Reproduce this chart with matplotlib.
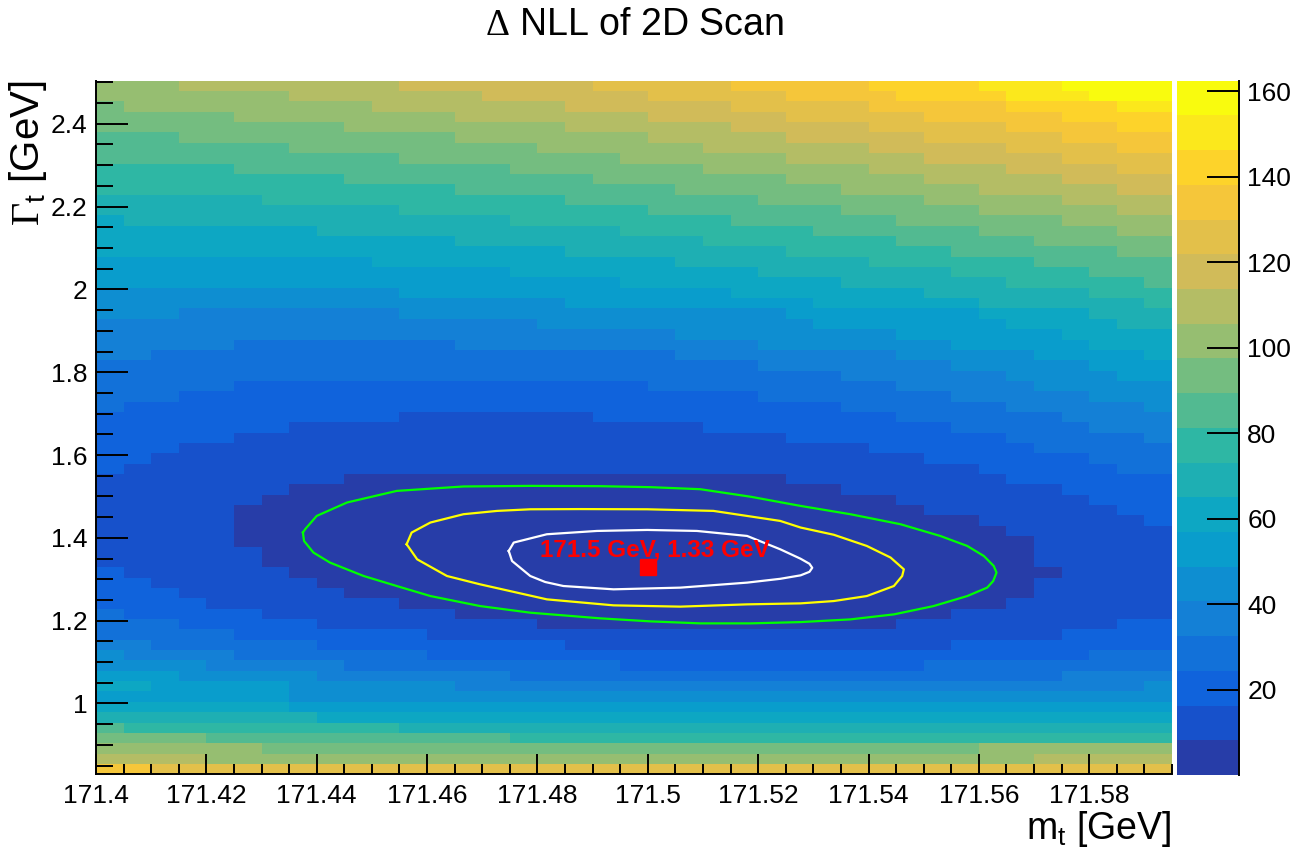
import numpy as np
import matplotlib
matplotlib.use("Agg")
import matplotlib.pyplot as plt
from matplotlib.colors import ListedColormap, BoundaryNorm, LinearSegmentedColormap
from matplotlib.ticker import MultipleLocator, FuncFormatter

plt.rcParams['font.family'] = ['Liberation Sans', 'DejaVu Sans']
plt.rcParams['mathtext.fontset'] = 'custom'
plt.rcParams['mathtext.rm'] = 'Liberation Sans'
plt.rcParams['mathtext.it'] = 'Liberation Sans:italic'
plt.rcParams['mathtext.tt'] = 'Liberation Serif'

# ---------------- data ----------------
MT_MIN, MT_STEP, N_MT = 171.4, 0.005, 39          # m_t bins
GT_MIN, GT_STEP, N_GT = 0.829, 0.025, 67          # Gamma_t bins
Z_MAX = 162.5
N_LEVELS = 20
CBAR_TICKS = [20, 40, 60, 80, 100, 120, 140, 160]

# colour level of every cell (level:count runs), top row first
LEVEL_ROWS = [
    "12:3 13:8 14:7 15:5 16:5 17:4 18:3 19:4",
    "12:7 13:7 14:6 15:5 16:4 17:4 18:3 19:3",
    "11:1 12:9 13:7 14:6 15:5 16:5 17:4 18:2",
    "11:5 12:8 13:7 14:5 15:5 16:5 17:4",
    "11:9 12:8 13:6 14:5 15:5 16:4 17:2",
    "10:3 11:10 12:7 13:5 14:5 15:5 16:4",
    "10:7 11:9 12:6 13:6 14:5 15:4 16:2",
    "10:11 11:8 12:6 13:5 14:5 15:4",
    "9:5 10:10 11:7 12:6 13:5 14:4 15:2",
    "9:9 10:9 11:7 12:5 13:5 14:4",
    "9:13 10:8 11:6 12:5 13:5 14:2",
    "8:6 9:11 10:7 11:6 12:5 13:4",
    "8:11 9:9 10:7 11:5 12:5 13:2",
    "7:1 8:14 9:8 10:6 11:6 12:4",
    "7:8 8:11 9:7 10:6 11:5 12:2",
    "7:13 8:9 9:7 10:5 11:5",
    "7:17 8:8 9:6 10:6 11:2",
    "6:10 7:11 8:7 9:6 10:5",
    "6:15 7:9 8:7 9:5 10:3",
    "6:19 7:8 8:6 9:5 10:1",
    "5:11 6:12 7:7 8:6 9:3",
    "5:17 6:9 7:6 8:6 9:1",
    "5:3 4:8 5:14 6:7 7:4 8:3",
    "4:16 5:10 6:7 7:4 8:2",
    "4:21 5:8 6:6 7:4",
    "4:5 3:8 4:11 5:7 6:5 7:3",
    "4:2 3:19 4:8 5:5 6:4 7:1",
    "3:24 4:7 5:5 6:3",
    "3:27 4:6 5:4 6:2",
    "3:5 2:15 3:9 4:5 5:5",
    "3:3 2:21 3:7 4:5 5:3",
    "3:1 2:26 3:6 4:5 5:1",
    "2:11 1:7 2:11 3:6 4:4",
    "2:7 1:15 2:9 3:5 4:3",
    "2:5 1:20 2:8 3:5 4:1",
    "2:3 1:25 2:6 3:5",
    "2:2 1:28 2:6 3:3",
    "2:1 1:31 2:5 3:2",
    "1:9 0:16 1:8 2:6",
    "1:7 0:20 1:8 2:4",
    "1:6 0:23 1:7 2:3",
    "1:5 0:25 1:7 2:2",
    "1:5 0:27 1:6 2:1",
    "1:5 0:28 1:6",
    "1:5 0:29 1:5",
    "1:6 0:28 1:5",
    "1:6 0:28 1:5",
    "2:1 1:6 0:28 1:4",
    "2:2 1:6 0:26 1:5",
    "2:3 1:6 0:25 1:5",
    "2:4 1:7 0:22 1:6",
    "3:1 2:5 1:7 0:18 1:8",
    "3:3 2:5 1:8 0:13 1:8 2:2",
    "3:5 2:7 1:23 2:4",
    "4:2 3:6 2:9 1:14 2:8",
    "5:1 4:4 3:7 2:24 3:3",
    "5:4 4:5 3:10 2:11 3:9",
    "6:3 5:5 4:7 3:20 4:4",
    "7:2 6:5 5:6 4:25 5:1",
    "6:7 5:32",
    "7:7 6:32",
    "8:8 7:31",
    "10:1 9:10 8:28",
    "11:4 10:11 9:24",
    "12:6 11:26 12:7",
    "13:4 12:30 13:5",
    "16:2 15:37",
]

# confidence contours (m_t [GeV], Gamma_t [GeV])
GREEN_MT = [171.4375, 171.4379, 171.4400, 171.4455, 171.4545, 171.4666, 171.4787, 171.4914,
            171.5005, 171.5095, 171.5186, 171.5277, 171.5367, 171.5458, 171.5530, 171.5579,
            171.5609, 171.5627, 171.5632, 171.5626, 171.5615, 171.5579, 171.5518, 171.5446,
            171.5367, 171.5277, 171.5186, 171.5095, 171.5005, 171.4914, 171.4787, 171.4696,
            171.4606, 171.4545, 171.4485, 171.4424, 171.4394, 171.4377]
GREEN_GT = [1.4128, 1.4208, 1.4530, 1.4854, 1.5134, 1.5241, 1.5255, 1.5248, 1.5224, 1.5175,
            1.4994, 1.4771, 1.4571, 1.4329, 1.4046, 1.3804, 1.3562, 1.3320, 1.3161, 1.2958,
            1.2798, 1.2595, 1.2353, 1.2152, 1.2031, 1.1966, 1.1935, 1.1935, 1.1983, 1.2056,
            1.2193, 1.2353, 1.2595, 1.2837, 1.3079, 1.3403, 1.3645, 1.3925]
YELLOW_MT = [171.4563, 171.4572, 171.4606, 171.4666, 171.4727, 171.4787, 171.4878, 171.4999,
             171.5119, 171.5240, 171.5277, 171.5337, 171.5397, 171.5440, 171.5464, 171.5461,
             171.5446, 171.5397, 171.5337, 171.5277, 171.5180, 171.5059, 171.4938, 171.4817,
             171.4696, 171.4636, 171.4582]
YELLOW_GT = [1.3845, 1.4128, 1.4370, 1.4571, 1.4651, 1.4690, 1.4695, 1.4690, 1.4651, 1.4409,
             1.4249, 1.4075, 1.3804, 1.3524, 1.3241, 1.3079, 1.2837, 1.2595, 1.2474, 1.2418,
             1.2394, 1.2339, 1.2370, 1.2515, 1.2878, 1.3079, 1.3482]
WHITE_MT = [171.4748, 171.4757, 171.4817, 171.4908, 171.4999, 171.5089, 171.5180, 171.5240,
            171.5277, 171.5293, 171.5298, 171.5293, 171.5277, 171.5240, 171.5180, 171.5059,
            171.4938, 171.4847, 171.4814, 171.4787, 171.4754]
WHITE_GT = [1.3683, 1.3886, 1.4087, 1.4167, 1.4191, 1.4167, 1.4046, 1.3724, 1.3495, 1.3374,
            1.3277, 1.3180, 1.3095, 1.3011, 1.2919, 1.2798, 1.2757, 1.2837, 1.2934, 1.3079,
            1.3441]

BEST_MT, BEST_GT = 171.5, 1.33
BEST_LABEL = "171.5 GeV, 1.33 GeV"
LABEL_MT, LABEL_GT = 171.4805, 1.3555

TITLE = r"$\mathtt{\Delta}$ NLL of 2D Scan"
XLABEL = r"$\mathregular{m_{t}}$ [GeV]"
YLABEL = r"$\mathtt{\Gamma}_{\mathregular{t}}$ [GeV]"

# ---------------- build grid ----------------
def parse_row(row):
    vals = []
    for tok in row.split():
        lv, n = tok.split(":")
        vals += [int(lv)] * int(n)
    vals = (vals + [vals[-1]] * N_MT)[:N_MT]
    return vals

levels = np.array([parse_row(r) for r in LEVEL_ROWS[::-1]], dtype=float)
Z = (levels + 0.5) * Z_MAX / N_LEVELS
x_edges = MT_MIN + MT_STEP * np.arange(N_MT + 1)
y_edges = GT_MIN + GT_STEP * np.arange(N_GT + 1)

# ROOT kBird palette
stops = [0.0, 0.125, 0.25, 0.375, 0.5, 0.625, 0.75, 0.875, 1.0]
red = [0.2082, 0.0592, 0.0780, 0.0232, 0.1802, 0.5301, 0.8186, 0.9956, 0.9764]
green = [0.1664, 0.3599, 0.5041, 0.6419, 0.7178, 0.7492, 0.7328, 0.7862, 0.9832]
blue = [0.5293, 0.8684, 0.8385, 0.7914, 0.6425, 0.4662, 0.3499, 0.1968, 0.0539]
bird = LinearSegmentedColormap.from_list(
    "bird", list(zip(stops, zip(red, green, blue))), N=255)
lev_colors = [bird(int((i + 0.99) * 255 / N_LEVELS)) for i in range(N_LEVELS)]
cmap = ListedColormap(lev_colors)
bounds = np.linspace(0, Z_MAX, N_LEVELS + 1)
norm = BoundaryNorm(bounds, N_LEVELS)

# ---------------- figure ----------------
W, H = 1297, 847
fig = plt.figure(figsize=(W / 100, H / 100), dpi=100)
ax = fig.add_axes([96 / W, 1 - 774.3 / H, (1172 - 96) / W, (774.3 - 80.7) / H])
mesh = ax.pcolormesh(x_edges, y_edges, Z, cmap=cmap, norm=norm, shading="flat")
ax.set_xlim(x_edges[0], x_edges[-1])
ax.set_ylim(y_edges[0], y_edges[-1])

ax.plot(GREEN_MT + GREEN_MT[:1], GREEN_GT + GREEN_GT[:1], color=(0.0, 1.0, 0.0), lw=1.6,
        zorder=3, solid_joinstyle="round")
ax.plot(YELLOW_MT + YELLOW_MT[:1], YELLOW_GT + YELLOW_GT[:1], color=(1.0, 1.0, 0.0), lw=1.6,
        zorder=3, solid_joinstyle="round")
ax.plot(WHITE_MT + WHITE_MT[:1], WHITE_GT + WHITE_GT[:1], color="white", lw=1.6,
        zorder=3, solid_joinstyle="round")
ax.plot([BEST_MT], [BEST_GT], marker="s", color="red", ms=12, zorder=4, ls="none")
ax.text(LABEL_MT, LABEL_GT, BEST_LABEL, color="red", fontsize=17.5, fontweight="bold",
        ha="left", va="baseline", zorder=5)

for s in ["top", "right"]:
    ax.spines[s].set_visible(False)
for s in ["left", "bottom"]:
    ax.spines[s].set_linewidth(1.4)

fmt = FuncFormatter(lambda v, p: "%g" % round(v, 6))
ax.xaxis.set_major_locator(MultipleLocator(0.02))
ax.xaxis.set_minor_locator(MultipleLocator(0.005))
ax.yaxis.set_major_locator(MultipleLocator(0.2))
ax.yaxis.set_minor_locator(MultipleLocator(0.05))
ax.xaxis.set_major_formatter(fmt)
ax.yaxis.set_major_formatter(fmt)
ax.tick_params(axis="x", which="major", direction="in", length=14.5, width=1.4,
               labelsize=19, pad=7, top=False)
ax.tick_params(axis="x", which="minor", direction="in", length=7, width=1.4, top=False)
ax.tick_params(axis="y", which="major", direction="in", length=23, width=1.4,
               labelsize=19, pad=6, right=False)
ax.tick_params(axis="y", which="minor", direction="in", length=12, width=1.4, right=False)

ax.set_xlabel(XLABEL, fontsize=27, ha="right", va="baseline")
ax.xaxis.set_label_coords(1.0, -0.0935)
ax.set_ylabel(YLABEL, fontsize=29, ha="right", va="bottom")
ax.yaxis.set_label_coords(-0.044, 1.0)

fig.text(0.489, 1 - 25 / H, TITLE, fontsize=27, ha="center", va="center")

# colour bar
cax = fig.add_axes([1177 / W, 1 - 775 / H, (1239 - 1177) / W, (775 - 80.7) / H])
cb = fig.colorbar(mesh, cax=cax, ticks=CBAR_TICKS)
cb.outline.set_visible(False)
cax.plot([1, 1], [0, 1], transform=cax.transAxes, color="black", lw=1.4, clip_on=False)
cax.tick_params(axis="y", which="major", direction="in", length=23, width=1.4,
                labelsize=19, pad=6)
cax.minorticks_off()

fig.savefig("out.png", dpi=100)
